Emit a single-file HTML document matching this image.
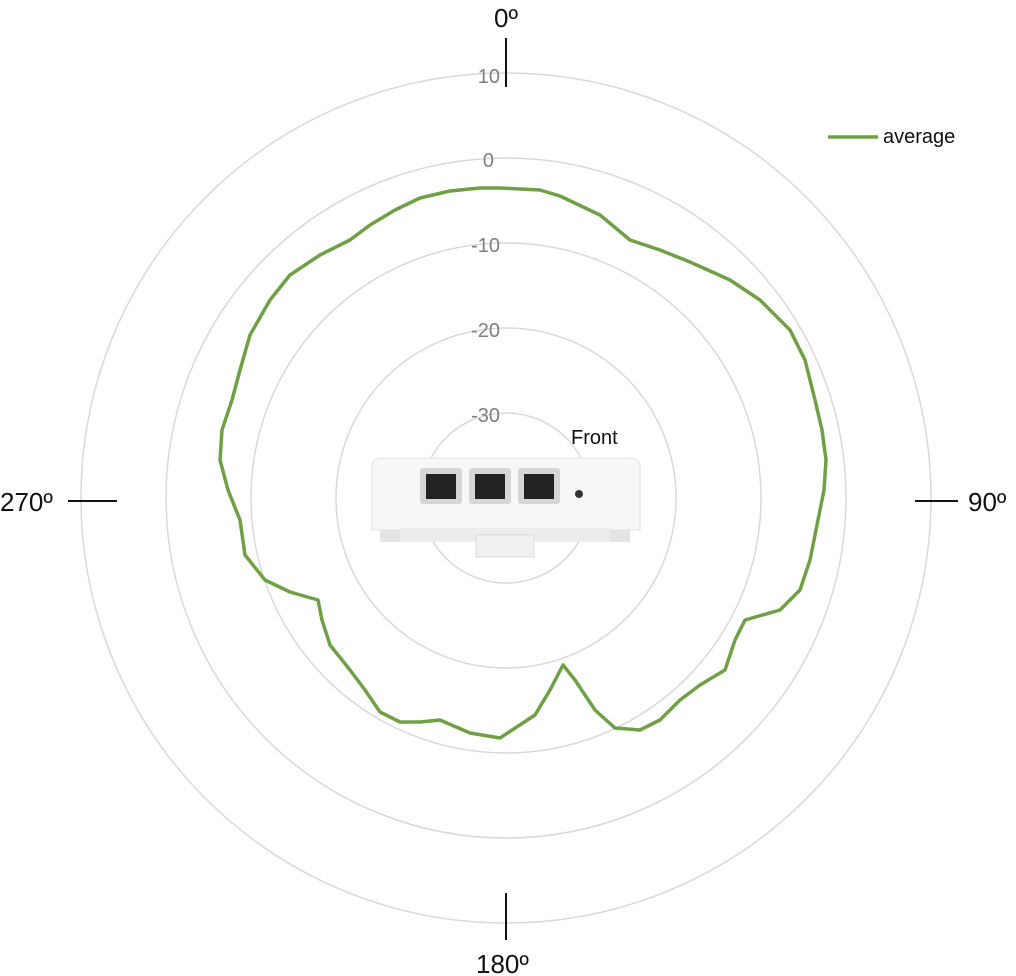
<!DOCTYPE html>
<html><head><meta charset="utf-8"><style>
html,body{margin:0;padding:0;background:#fff;}
svg{display:block;font-family:"Liberation Sans",sans-serif;}
</style></head><body>
<svg width="1016" height="976" viewBox="0 0 1016 976" xmlns="http://www.w3.org/2000/svg">
<g fill="none" stroke="#d9d9d9" stroke-width="1.5">
<circle cx="506" cy="498" r="425"/>
<circle cx="506" cy="498" r="340"/>
<circle cx="506" cy="498" r="255"/>
<circle cx="506" cy="498" r="170"/>
<circle cx="506" cy="498" r="85"/>
</g>
<g fill="#7f7f7f" font-size="20" text-anchor="end">
<text x="500" y="83">10</text>
<text x="494" y="167">0</text>
<text x="500" y="252">-10</text>
<text x="500" y="337">-20</text>
<text x="500" y="422">-30</text>
</g>
<g stroke="#111" stroke-width="2">
<line x1="506" y1="38" x2="506" y2="87"/>
<line x1="915" y1="501" x2="958" y2="501"/>
<line x1="68" y1="501" x2="117" y2="501"/>
<line x1="506" y1="893" x2="506" y2="940"/>
</g>
<g fill="#111" font-size="26">
<text x="494" y="27">0º</text>
<text x="968" y="511">90º</text>
<text x="0" y="511">270º</text>
<text x="476" y="973">180º</text>
</g>
<line x1="828" y1="137" x2="878" y2="137" stroke="#70a046" stroke-width="3.5"/>
<text x="883" y="143" font-size="20" fill="#111">average</text>
<!-- device -->
<g>
<rect x="380" y="528" width="250" height="14" fill="#e4e4e4"/>
<path d="M372 466 Q372 458 384 458 L628 458 Q640 458 640 466 L640 530 L372 530 Z" fill="#f7f7f7" stroke="#e2e2e2"/>
<rect x="400" y="528" width="210" height="14" fill="#ededed"/>
<rect x="476" y="535" width="58" height="22" fill="#f0f0f0" stroke="#ddd"/>
<g fill="#d6d6d6"><rect x="420" y="468" width="42" height="36" rx="3"/><rect x="469" y="468" width="42" height="36" rx="3"/><rect x="518" y="468" width="42" height="36" rx="3"/></g>
<g fill="#222"><rect x="426" y="474" width="30" height="25"/><rect x="475" y="474" width="30" height="25"/><rect x="524" y="474" width="30" height="25"/></g>
<circle cx="579" cy="494" r="4" fill="#333"/>
</g>
<text x="571" y="444" font-size="20" fill="#111">Front</text>
<path fill="none" stroke="#70a046" stroke-width="3.5" stroke-linejoin="round" d="
M480 188 L500 188 L540 190 L560 196 L600 215 L630 240 L660 250 L690 262 L730 280 L760 300 L790 330 L805 360 L815 400 L822 430 L826 460 L824 490 L818 520 L810 560 L800 590 L780 610 L745 620 L735 640 L725 670 L700 685 L680 700 L660 720 L640 730 L615 728 L595 710 L575 680 L563 665 L550 690 L535 715 L500 738 L470 733 L440 720 L420 722 L400 722 L380 712 L365 690 L350 670 L330 645 L322 620 L318 600 L290 592 L265 580 L245 555 L240 520 L228 490 L220 460 L222 430 L232 400 L240 370 L250 335 L270 300 L290 275 L320 255 L350 240 L370 225 L395 210 L420 198 L450 191 Z"/>
</svg>
</body></html>
